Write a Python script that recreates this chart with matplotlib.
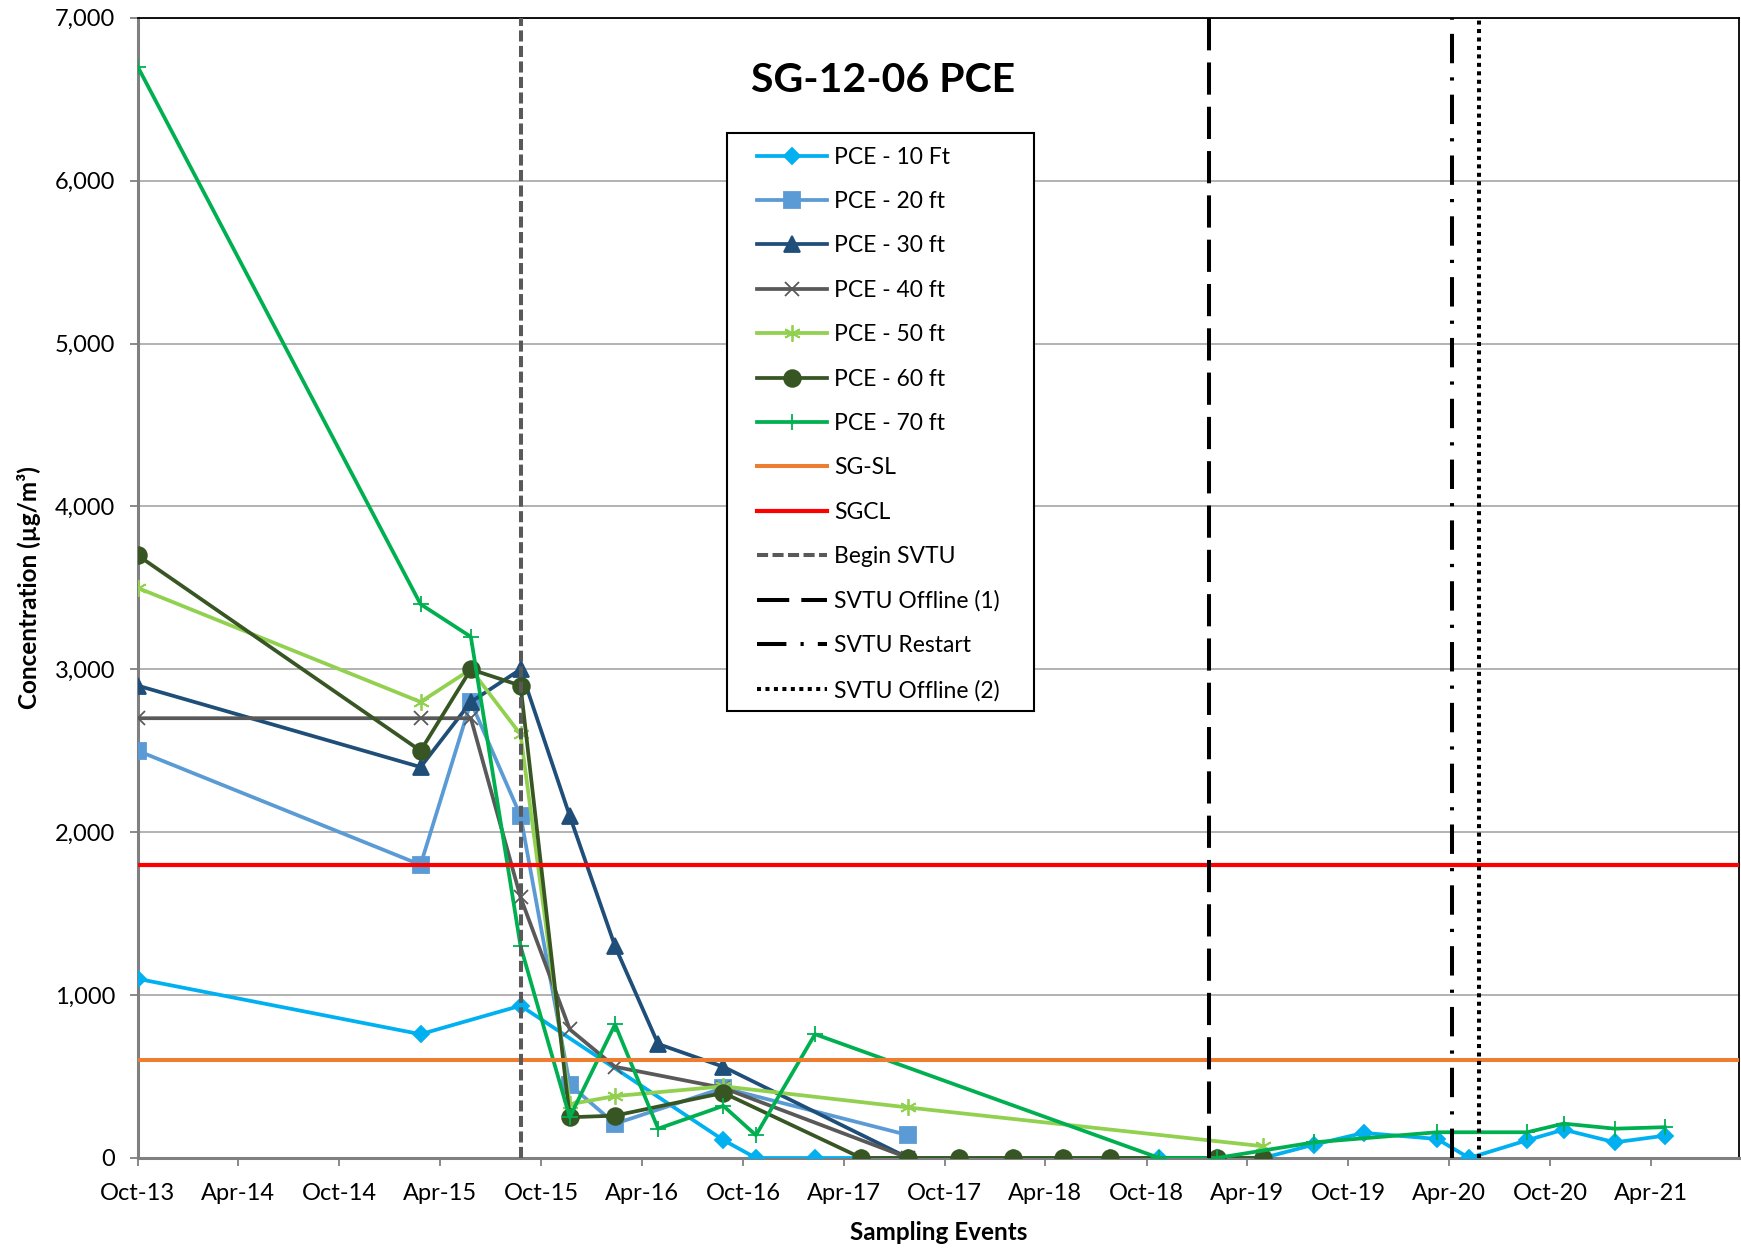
import numpy as np
import pandas as pd
import matplotlib
matplotlib.use("Agg")
import matplotlib.pyplot as plt
import matplotlib.dates as mdates
from matplotlib.ticker import FuncFormatter
from matplotlib.patches import Rectangle

plt.rcParams['font.family'] = ['Lato', 'DejaVu Sans']

# sampling events
events = ["2013-10-01", "2015-02-25", "2015-05-27", "2015-08-25", "2015-11-22",
          "2016-02-12", "2016-04-30", "2016-08-26", "2016-10-24", "2017-02-08",
          "2017-05-03", "2017-07-27", "2017-10-26", "2018-02-01", "2018-05-02",
          "2018-07-27", "2018-10-24", "2019-02-05", "2019-04-30", "2019-07-31",
          "2019-10-29", "2020-03-10", "2020-05-07", "2020-08-20", "2020-10-25",
          "2021-01-26", "2021-04-26"]

N = None
pce10 = [1100, 760, N, 935, N, N, N, 110, 0, 0, 0, 0, 0, 0, 0, 0, 0, 0, 0,
         82, 154, 117, 0, 109, 174, 96, 137]
pce20 = [2500, 1800, 2800, 2100, 450, 210, N, 430, N, N, N, 140, N, N, N, N,
         N, N, N, N, N, N, N, N, N, N, N]
pce30 = [2900, 2400, 2800, 3000, 2100, 1300, 700, 560, N, N, N, 0, N, N, N, N,
         N, N, N, N, N, N, N, N, N, N, N]
pce40 = [2700, 2700, 2700, 1600, 790, 560, N, 430, N, N, N, 0, N, N, N, N,
         N, N, N, N, N, N, N, N, N, N, N]
pce50 = [3500, 2800, 3000, 2600, 330, 380, N, 440, N, N, N, 310, N, N, N, N,
         N, N, 72, N, N, N, N, N, N, N, N]
pce60 = [3700, 2500, 3000, 2900, 250, 260, N, 400, N, N, 0, 0, 0, 0, 0, 0,
         N, 0, 0, N, N, N, N, N, N, N, N]
pce70 = [6700, 3400, 3200, 1300, 250, 820, 180, 320, 140, 760, N, N, N, N, N, N,
         0, 0, N, 96, N, 158, N, 158, 211, 180, 189]

sg_sl = 600
sgcl = 1800
begin_svtu = "2015-08-25"
offline1 = "2019-01-22"
restart = "2020-04-06"
offline2 = "2020-05-25"

series = [
    ("PCE - 10 Ft", pce10, "#00B0F0", "D", 8),
    ("PCE - 20 ft", pce20, "#5B9BD5", "s", 11),
    ("PCE - 30 ft", pce30, "#1F4E79", "^", 12),
    ("PCE - 40 ft", pce40, "#595959", "x", 10),
    ("PCE - 50 ft", pce50, "#92D050", (6, 2, 0), 12),
    ("PCE - 60 ft", pce60, "#375623", "o", 12),
    ("PCE - 70 ft", pce70, "#00B050", "+", 11),
]

dates = pd.to_datetime(events)

fig = plt.figure(figsize=(17.41, 12.55), dpi=100)
ax = fig.add_axes([0.0791, 0.0773, 0.9196, 0.9085])

for name, vals, col, mk, ms in series:
    d = [dates[i] for i, v in enumerate(vals) if v is not None]
    v = [v for v in vals if v is not None]
    ax.plot(d, v, color=col, lw=2.7, marker=mk, ms=ms, mew=1.3,
            label=name, zorder=3)

ax.axhline(sg_sl, color="#ED7D31", lw=2.9, label="SG-SL", zorder=4)
ax.axhline(sgcl, color="#FF0000", lw=3.0, label="SGCL", zorder=4)
ax.axvline(pd.Timestamp(begin_svtu), color="#595959", lw=2.9,
           dashes=(2.75, 1.1), label="Begin SVTU", zorder=5)
ax.axvline(pd.Timestamp(offline1), color="black", lw=2.9,
           dashes=(8, 3), label="SVTU Offline (1)", zorder=5)
ax.axvline(pd.Timestamp(restart), color="black", lw=2.9,
           dashes=(7.3, 3.5, 0.8, 3.5), label="SVTU Restart", zorder=5)
ax.axvline(pd.Timestamp(offline2), color="black", lw=2.9,
           dashes=(1, 1.1), label="SVTU Offline (2)", zorder=5)

ax.set_xlim(pd.Timestamp("2013-10-01"), pd.Timestamp("2021-09-07"))
ax.set_ylim(0, 7000)
ax.set_yticks(np.arange(0, 7001, 1000))
ax.yaxis.set_major_formatter(FuncFormatter(lambda v, p: f"{int(v):,}"))
ax.xaxis.set_major_locator(mdates.MonthLocator(bymonth=[4, 10], bymonthday=1))
ax.xaxis.set_major_formatter(mdates.DateFormatter("%b-%y"))

ax.grid(axis="y", color="#A6A6A6", lw=1.2, zorder=0)
ax.set_axisbelow(True)
ax.tick_params(axis="both", labelsize=17, color="#808080", width=1.3,
               length=6)
ax.tick_params(axis="x", pad=12)
ax.tick_params(axis="y", pad=10)
for s in ["left", "bottom"]:
    ax.spines[s].set_color("#808080")
    ax.spines[s].set_linewidth(2.2)
for s in ["top", "right"]:
    ax.spines[s].set_color("black")
    ax.spines[s].set_linewidth(1.3)

ax.set_xlabel("Sampling Events", fontsize=17.5, fontweight="bold", labelpad=12)
ax.set_ylabel("Concentration (µg/m³)", fontsize=17.5, fontweight="bold",
              labelpad=10)

ax.text(0.4653, 0.9454, "SG-12-06 PCE", transform=ax.transAxes, ha="center",
        va="center", fontsize=29.5, fontweight="bold")

# legend box
box = Rectangle((0.368, 0.3924), 0.1917, 0.5066, transform=ax.transAxes,
                facecolor="white", edgecolor="black", lw=1.5, zorder=9)
ax.add_patch(box)
leg = ax.legend(loc="upper left", bbox_to_anchor=(0.387, 0.887), fontsize=16.5,
                frameon=False, handlelength=3.05, handletextpad=0.3,
                labelspacing=1.02, borderpad=0, numpoints=1, borderaxespad=0)
leg.set_zorder(10)

plt.savefig("out.png", dpi=100)
